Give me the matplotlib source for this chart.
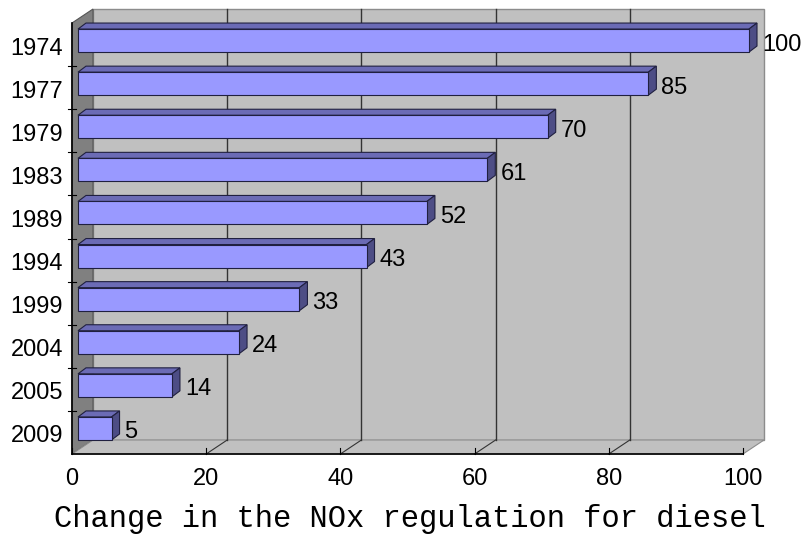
import numpy as np
import matplotlib
matplotlib.use("Agg")
import matplotlib.pyplot as plt
from matplotlib.patches import Polygon

# data
years = ["1974", "1977", "1979", "1983", "1989", "1994", "1999", "2004", "2005", "2009"]
values = [100, 85, 70, 61, 52, 43, 33, 24, 14, 5]
xticks = [0, 20, 40, 60, 80, 100]
title = "Change in the NOx regulation for diesel"

W, H = 809, 536
fig = plt.figure(figsize=(W / 100, H / 100), dpi=100)
# front plane of the 3D box, in pixels
x0, x1 = 72, 743
y0, y1 = 23, 454
ax = fig.add_axes([x0 / W, 1 - y1 / H, (x1 - x0) / W, (y1 - y0) / H])
n = len(years)
ax.set_xlim(0, 100)
ax.set_ylim(n, 0)
ax.axis("off")

pxx = (x1 - x0) / 100.0      # px per value unit
pxy = (y1 - y0) / float(n)   # px per category band

# depth of the box (px -> data)
Dx, Dy = 21 / pxx, 14 / pxy
# bar depth position
ox, oy = 6 / pxx, 4 / pxy
bx, by = 8 / pxx, 6 / pxy
half = 0.267

def poly(pts, fc, ec="none", lw=0.8, z=1):
    p = Polygon(pts, closed=True, facecolor=fc, edgecolor=ec, linewidth=lw,
                clip_on=False, zorder=z, joinstyle="miter")
    ax.add_patch(p)

# back wall
poly([(Dx, -Dy), (100 + Dx, -Dy), (100 + Dx, n - Dy), (Dx, n - Dy)], "#C0C0C0", "#8C8C8C", 1.0, 1)
# left wall
poly([(0, 0), (Dx, -Dy), (Dx, n - Dy), (0, n)], "#808080", "#555555", 0.8, 2)
# floor
poly([(0, n), (100, n), (100 + Dx, n - Dy), (Dx, n - Dy)], "#C0C0C0", "#8C8C8C", 0.8, 2)

# gridlines on back wall and floor
for v in xticks[1:-1]:
    ax.plot([v + Dx, v + Dx], [-Dy, n - Dy], color="#333333", lw=1.0, clip_on=False, zorder=3)
    ax.plot([v, v + Dx], [n, n - Dy], color="#333333", lw=0.8, clip_on=False, zorder=3)

# axis lines
ax.plot([0, 100], [n, n], color="black", lw=1.2, clip_on=False, zorder=4)
ax.plot([0, 0], [0, n], color="black", lw=1.2, clip_on=False, zorder=4)
tky = 6 / pxy
for v in xticks:
    ax.plot([v, v], [n, n - tky], color="black", lw=0.8, clip_on=False, zorder=4)
    ax.text(v, n + 25 / pxy, str(v), ha="center", va="center",
            fontsize=17, family="Liberation Sans")
tkx = 4 / pxx
for i in range(1, n):
    ax.plot([-tkx, tkx], [i, i], color="black", lw=0.8, clip_on=False, zorder=4)

# bars
for i, (yr, v) in enumerate(zip(years, values)):
    yt = i + 0.5 - half - oy
    yb = i + 0.5 + half - oy
    l, r = ox, v + ox
    poly([(l, yt), (r, yt), (r + bx, yt - by), (l + bx, yt - by)], "#6B6BB5", "#202040", 0.8, 5)
    poly([(r, yt), (r + bx, yt - by), (r + bx, yb - by), (r, yb)], "#4D4D85", "#202040", 0.8, 5)
    poly([(l, yt), (r, yt), (r, yb), (l, yb)], "#9999FF", "#202040", 0.8, 6)
    ax.text(r + bx + 5 / pxx, i + 0.5, str(v), ha="left", va="center",
            fontsize=17, family="Liberation Sans", zorder=7)
    ax.text(-9 / pxx, i + 0.5 + 4 / pxy, yr, ha="right", va="center",
            fontsize=17, family="Liberation Sans")

fig.text(410 / W, 1 - 519 / H, title, ha="center", va="center",
         fontsize=22, family="Liberation Mono")

fig.savefig("out.png", dpi=100)
